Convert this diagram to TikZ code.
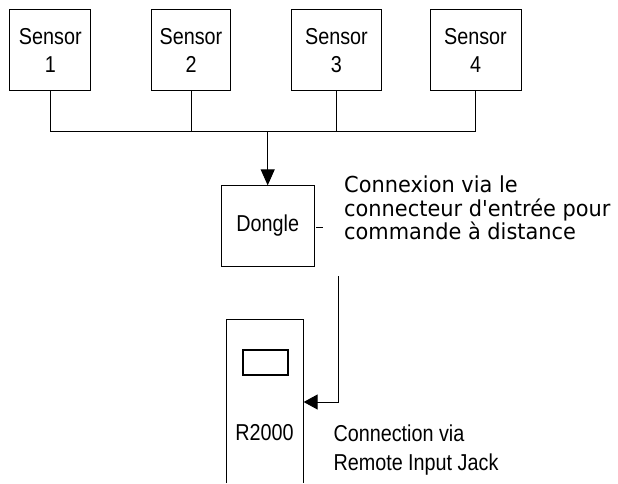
\documentclass[tikz,border=0pt]{standalone}
\usepackage{fontspec}
\usetikzlibrary{arrows.meta}
% Arial-like labels (slightly narrowed) and a Verdana-like note face
\newfontfamily\labelfont[FakeStretch=0.86]{Liberation Sans}
\newfontfamily\notefont[FakeStretch=0.95]{DejaVu Sans}
\begin{document}
\begin{tikzpicture}[x=1pt,y=-1pt,
  wire/.style={line width=1pt,black},
  box/.style={draw,line width=1pt,inner sep=0pt,align=center,
    font=\labelfont\fontsize{23}{27.8}\selectfont},
  lbl/.style={inner sep=0pt,font=\labelfont\fontsize{23}{28.3}\selectfont},
  note/.style={inner sep=0pt,align=left,font=\notefont\fontsize{22}{23.3}\selectfont},
  tip/.style={-{Triangle[length=16pt,width=14pt]}},
  tipside/.style={-{Triangle[length=14pt,width=15pt]}}]
\useasboundingbox (0,0) rectangle (618,483);

% sensors
\node[box,minimum width=80.7pt,minimum height=80.7pt] (s1) at (50.3,50.3) {Sensor\\1};
\node[box,minimum width=79.4pt,minimum height=80.7pt] (s2) at (191,50.3) {Sensor\\2};
\node[box,minimum width=90.7pt,minimum height=80.7pt] (s3) at (336.4,50.3) {Sensor\\3};
\node[box,minimum width=91pt,minimum height=80.7pt] (s4) at (475.5,50.3) {Sensor\\4};

% common bus from the sensors
\coordinate (bus) at (50.3,131);
\draw[wire] (s1.south) |- (s4.south |- bus) -- (s4.south);
\draw[wire] (s2.south) -- (s2.south |- bus);
\draw[wire] (s3.south) -- (s3.south |- bus);

% dongle
\node[box,minimum width=93.3pt,minimum height=80.3pt] (dongle) at (267.7,226) {Dongle};
\draw[wire,tip] (dongle.north |- bus) -- (dongle.north);
\coordinate (stub) at (316,227.3);
\draw[wire] (stub) -- ++(7,0);

% the base anchor of a multi-line node sits on its last line
\node[note,anchor=base west] (fr) at (344,239.3)
  {Connexion via le\\connecteur d'entrée pour\\commande à distance};

% R2000 unit, open at the bottom
\node[inner sep=0pt,minimum width=76.5pt,minimum height=163pt] (unit) at (265.2,401.5) {};
\draw[wire] (unit.south west) -- (unit.north west) -- (unit.north east) -- (unit.south east);
\node[draw,line width=2pt,inner sep=0pt,minimum width=45pt,minimum height=25pt] (display) at (265.5,362) {};
\node[lbl,anchor=base] (model) at (264.5,440) {R2000};

% cable into the remote input jack
\coordinate (cable) at (338.3,276);
\coordinate (jack) at (338.3,402);
\draw[wire,tipside] (cable) -- (jack) -- (unit.east |- jack);

\node[lbl,anchor=base west,align=left] (en) at (333.3,470)
  {Connection via\\Remote Input Jack};
\end{tikzpicture}
\end{document}
